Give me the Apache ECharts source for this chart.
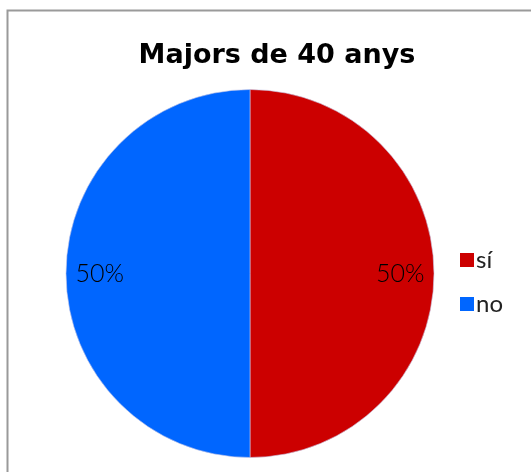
<!DOCTYPE html>
<html>
<head>
<meta charset="utf-8">
<script src="https://cdn.jsdelivr.net/npm/echarts@6/dist/echarts.min.js"></script>
<style>
  html, body { margin: 0; padding: 0; background: #fff; }
  #chart { width: 531px; height: 472px; }
</style>
</head>
<body>
<div id="chart"></div>
<script>
// Answers to "Majors de 40 anys"
const categories = ['sí', 'no'];
const values = [50, 50];
const colors = ['#CC0000', '#0066FF'];
const titleText = 'Majors de 40 anys';

const chart = echarts.init(document.getElementById('chart'), null, { renderer: 'canvas' });

const R = 184;

chart.setOption({
  animation: false,
  backgroundColor: '#ffffff',
  graphic: [{
    type: 'rect',
    shape: { x: 7.5, y: 10.5, width: 540, height: 480 },
    style: { fill: 'none', stroke: '#9a9a9a', lineWidth: 2 },
    silent: true
  }],
  title: {
    text: titleText,
    left: 272,
    top: 37,
    textAlign: 'center',
    textStyle: { fontFamily: '"DejaVu Sans", sans-serif', fontWeight: 'bold', fontSize: 27, color: '#000' }
  },
  legend: {
    orient: 'vertical',
    left: 455,
    top: 243,
    itemWidth: 14,
    itemHeight: 14,
    itemGap: 20,
    icon: 'rect',
    itemStyle: { borderWidth: 0 },
    data: categories,
    textStyle: { fontFamily: 'Lato, "DejaVu Sans", sans-serif', fontSize: 24, color: '#222', padding: [0, 0, 0, -3] }
  },
  series: [
    {
      type: 'pie',
      center: [250, 273.5],
      radius: [0, R],
      startAngle: 90,
      clockwise: true,
      label: { show: false },
      labelLine: { show: false },
      itemStyle: { borderColor: 'rgba(200,200,230,0.6)', borderWidth: 1 },
      data: categories.map((c, i) => ({ name: c, value: values[i], itemStyle: { color: colors[i] } }))
    },
    {
      // label ring: places the percentages at 80% of the radius
      type: 'pie',
      center: [250, 273.5],
      radius: [R * 0.6, R],
      startAngle: 90,
      clockwise: true,
      silent: true,
      legendHoverLink: false,
      itemStyle: { color: 'rgba(0,0,0,0)' },
      label: {
        show: true,
        position: 'inside',
        formatter: '{d}%',
        fontFamily: 'Lato, "DejaVu Sans", sans-serif',
        fontWeight: 300,
        fontSize: 25,
        color: '#000'
      },
      labelLine: { show: false },
      data: categories.map((c, i) => ({ name: c + ' ', value: values[i] }))
    }
  ]
});
</script>
</body>
</html>
